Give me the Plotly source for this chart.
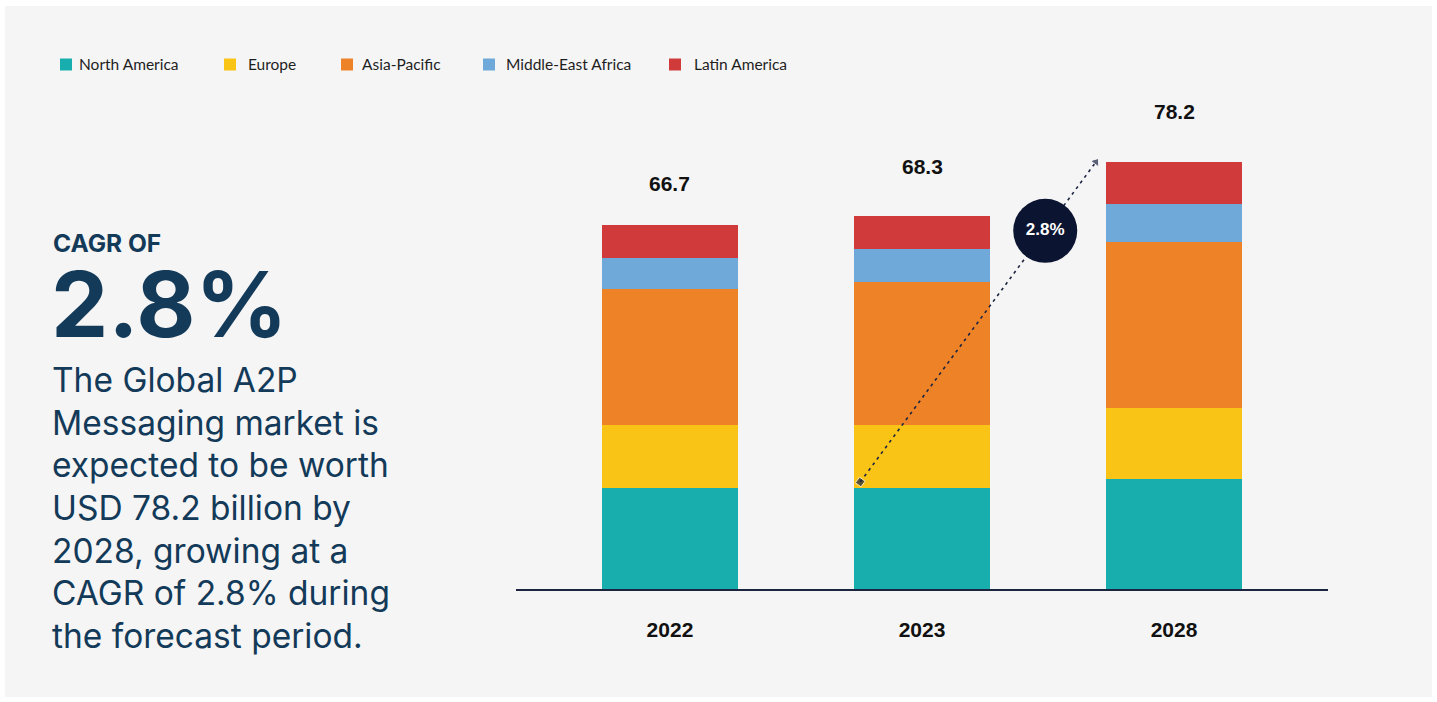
import plotly.graph_objects as go

# ---------------- data ----------------
years = ["2022", "2023", "2028"]
regions = ["North America", "Europe", "Asia-Pacific", "Middle-East Africa", "Latin America"]
north_america = [18.5, 18.5, 20.1]
europe = [11.5, 11.5, 13.0]
asia_pacific = [24.9, 26.3, 30.4]
middle_east_africa = [5.7, 6.0, 7.0]
latin_america = [6.1, 6.0, 7.7]
totals = [66.7, 68.3, 78.2]
cagr_label = "2.8%"
headline = "CAGR OF"
paragraph = ["The Global A2P", "Messaging market is", "expected to be worth",
             "USD 78.2 billion by", "2028, growing at a", "CAGR of 2.8% during",
             "the forecast period."]

series = [north_america, europe, asia_pacific, middle_east_africa, latin_america]

# ---------------- style ----------------
colors = ["#19aeae", "#f9c416", "#ee8227", "#6fa9da", "#d03a3a"]
navy = "#133a59"
dark = "#0b1430"
FONT = "Lato"
HEAD_FONT = "Inter"
NUM_FONT = "Liberation Sans"
W, H = 1437, 702
L, R, T, B = 516, 1328, 100, 589   # plot area in pixels


def px(x):
    return (x - L) / (R - L)


def py(y):
    return (B - y) / (B - T)


xpos = list(range(len(years)))

fig = go.Figure()
for name, vals, col in zip(regions, series, colors):
    fig.add_trace(go.Bar(x=xpos, y=vals, name=name, width=0.536,
                         marker=dict(color=col, line=dict(width=0)),
                         showlegend=False, hoverinfo="name+y"))

# dotted CAGR arrow between 2023 and 2028
a0 = (xpos[1] - 0.245, north_america[1] + 1.1)
a1 = (xpos[2] - 0.31, totals[2])
fig.add_trace(go.Scatter(x=[a0[0], a1[0]], y=[a0[1], a1[1]], mode="lines+markers",
                         line=dict(color="#1c2540", width=1.6, dash="3px,4px"),
                         marker=dict(symbol=["square", "triangle-up"], size=[7, 9],
                                     angle=[36, 36], color="#1c2540"),
                         showlegend=False, hoverinfo="skip"))
t = 0.785
cx = a0[0] + (a1[0] - a0[0]) * t
cy = a0[1] + (a1[1] - a0[1]) * t
fig.add_trace(go.Scatter(x=[cx], y=[cy], mode="markers+text", text=[cagr_label],
                         textposition="middle center",
                         textfont=dict(family=NUM_FONT, size=17, color="white", weight="bold"),
                         marker=dict(size=64, color=dark, line=dict(width=0)),
                         showlegend=False, hoverinfo="skip"))

annotations = []
shapes = []
# background panel
shapes.append(dict(type="rect", xref="paper", yref="paper", x0=px(5), x1=px(1432),
                   y0=py(697), y1=py(6), fillcolor="#f5f5f5", line=dict(width=0),
                   layer="below"))

# totals above bars
label_shift = [41, 50, 51]
for i, tot in enumerate(totals):
    annotations.append(dict(x=xpos[i], y=tot, xref="x", yref="y", text=f"{tot}",
                            showarrow=False, yshift=label_shift[i], yanchor="middle",
                            font=dict(family=NUM_FONT, size=21, color="#111111", weight="bold")))

# manual legend
sq_x = [60, 224, 341, 483, 669]
tx_x = [77, 246, 360, 504, 692]
for name, col, sx, tx in zip(regions, colors, sq_x, tx_x):
    shapes.append(dict(type="rect", xref="paper", yref="paper", x0=px(sx), x1=px(sx + 12),
                       y0=py(70.5), y1=py(58.5), fillcolor=col, line=dict(width=0)))
    annotations.append(dict(x=px(tx), y=py(64.5), xref="paper", yref="paper", text=name,
                            showarrow=False, xanchor="left", yanchor="middle",
                            font=dict(family=FONT, size=15.5, color="#1e1e1e")))

# left text block
annotations.append(dict(x=px(51), y=py(243), xref="paper", yref="paper", text=headline,
                        showarrow=False, xanchor="left", yanchor="middle",
                        font=dict(family=HEAD_FONT, size=24.5, color=navy, weight="bold")))
annotations.append(dict(x=px(49), y=py(304), xref="paper", yref="paper", text=cagr_label,
                        showarrow=False, xanchor="left", yanchor="middle",
                        font=dict(family=HEAD_FONT, size=91, color=navy, weight="bold")))
line_y = [380, 422.7, 465.3, 508, 550.7, 593.3, 636]
for line, ly in zip(paragraph, line_y):
    annotations.append(dict(x=px(50), y=py(ly), xref="paper", yref="paper",
                            text=line, align="left",
                            showarrow=False, xanchor="left", yanchor="middle",
                            font=dict(family=HEAD_FONT, size=33.5, color=navy)))

fig.update_layout(
    width=W, height=H, autosize=False,
    margin=dict(l=L, r=W - R, t=T, b=H - B),
    paper_bgcolor="white", plot_bgcolor="rgba(0,0,0,0)",
    barmode="stack", bargap=0,
    showlegend=False,
    shapes=shapes, annotations=annotations,
    xaxis=dict(range=[-0.611, 2.611], tickvals=xpos, ticktext=years,
               showline=True, linecolor="#1c2540", linewidth=2, showgrid=False,
               zeroline=False, ticks="", ticklabelstandoff=21,
               tickfont=dict(family=NUM_FONT, size=21, color="#111111", weight="bold"),
               fixedrange=True),
    yaxis=dict(range=[0, (B - T) / 5.46], visible=False, showgrid=False,
               zeroline=False, fixedrange=True),
)

fig.write_html("out.html")
